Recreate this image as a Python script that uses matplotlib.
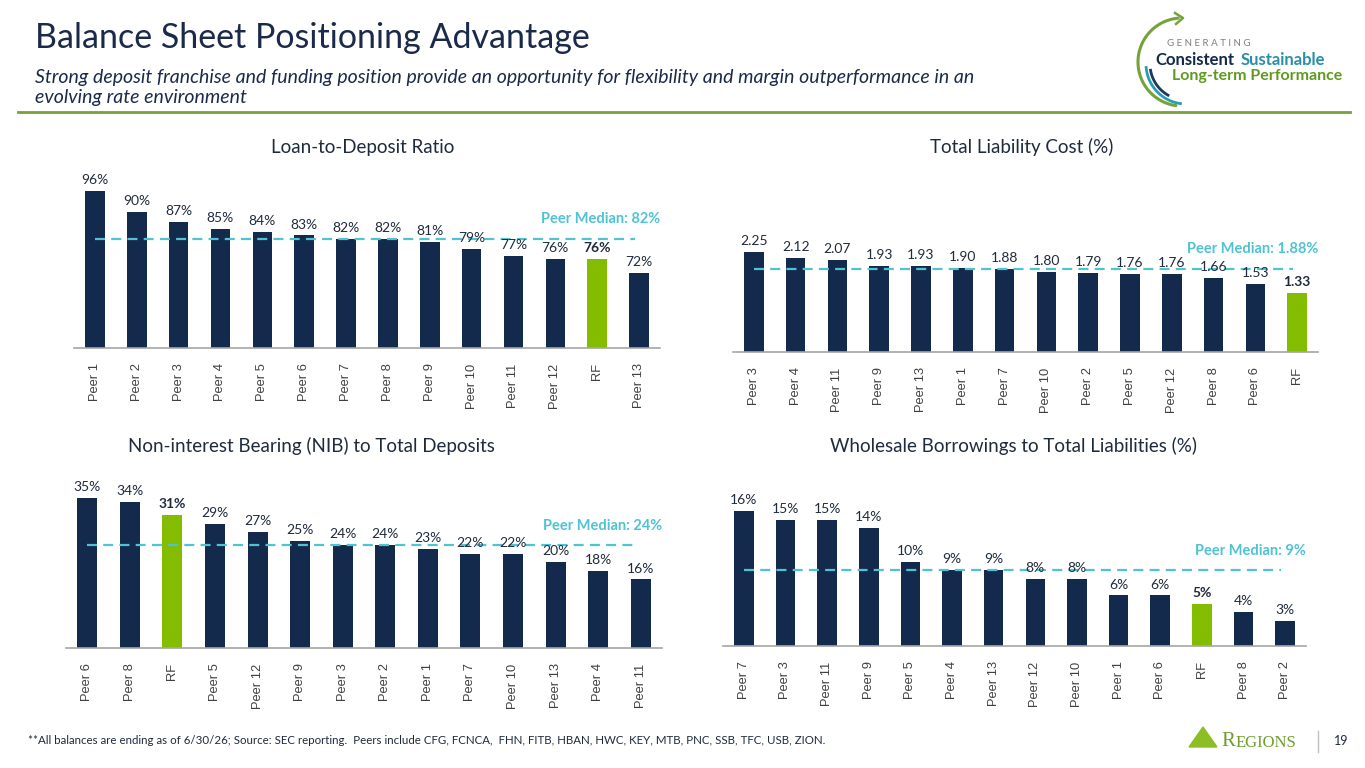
import numpy as np
import matplotlib
matplotlib.use("Agg")
from matplotlib import pyplot as plt
from matplotlib.patches import Polygon

# ---------------------------------------------------------------------------
# DATA
# ---------------------------------------------------------------------------

ltd_names  = ["Peer 1", "Peer 2", "Peer 3", "Peer 4", "Peer 5", "Peer 6", "Peer 7",
              "Peer 8", "Peer 9", "Peer 10", "Peer 11", "Peer 12", "RF", "Peer 13"]
ltd_values = [96, 90, 87, 85, 84, 83, 82, 82, 81, 79, 77, 76, 76, 72]
ltd_median = 82

tlc_names  = ["Peer 3", "Peer 4", "Peer 11", "Peer 9", "Peer 13", "Peer 1", "Peer 7",
              "Peer 10", "Peer 2", "Peer 5", "Peer 12", "Peer 8", "Peer 6", "RF"]
tlc_values = [2.25, 2.12, 2.07, 1.93, 1.93, 1.90, 1.88, 1.80, 1.79, 1.76, 1.76, 1.66, 1.53, 1.33]
tlc_median = 1.88

nib_names  = ["Peer 6", "Peer 8", "RF", "Peer 5", "Peer 12", "Peer 9", "Peer 3",
              "Peer 2", "Peer 1", "Peer 7", "Peer 10", "Peer 13", "Peer 4", "Peer 11"]
nib_values = [35, 34, 31, 29, 27, 25, 24, 24, 23, 22, 22, 20, 18, 16]
nib_median = 24

wb_names  = ["Peer 7", "Peer 3", "Peer 11", "Peer 9", "Peer 5", "Peer 4", "Peer 13",
             "Peer 12", "Peer 10", "Peer 1", "Peer 6", "RF", "Peer 8", "Peer 2"]
wb_values = [16, 15, 15, 14, 10, 9, 9, 8, 8, 6, 6, 5, 4, 3]
wb_median = 9

# ---------------------------------------------------------------------------
# STYLE
# ---------------------------------------------------------------------------

NAVY  = "#142a4c"
GREEN = "#84bd00"
TEAL  = "#4fc3d3"
TEXT  = "#1f2b3d"
OLIVE = "#76a23a"

plt.rcParams["font.family"] = ["Lato", "DejaVu Sans"]

W, H = 1365, 768
fig = plt.figure(figsize=(W / 100, H / 100), dpi=100)

# decoration layer in pixel coordinates
deco = fig.add_axes([0, 0, 1, 1], zorder=0)
deco.set_xlim(0, W)
deco.set_ylim(H, 0)
deco.axis("off")


def px_axes(left, right, top, bottom):
    return fig.add_axes([left / W, (H - bottom) / H, (right - left) / W, (bottom - top) / H], zorder=2)


def bar_panel(box, names, values, median, ylim, fmt, med_label):
    ax = px_axes(*box)
    ax.patch.set_alpha(0)
    x = np.arange(len(names))
    colors = [GREEN if n == "RF" else NAVY for n in names]
    ax.bar(x, values, width=0.47, color=colors, zorder=2)
    ax.set_xlim(-0.5, len(names) - 0.5)
    ax.set_ylim(*ylim)

    for xi, v, n in zip(x, values, names):
        ax.annotate(fmt.format(v), xy=(xi, v), xytext=(0, 3.5), textcoords="offset points",
                    ha="center", va="bottom", fontsize=10, color=TEXT,
                    fontweight="bold" if n == "RF" else "normal", zorder=4)

    ax.plot([0, len(names) - 1.1], [median, median], color=TEAL, lw=1.6,
            linestyle=(0, (4.5, 2.8)), zorder=3)
    ax.annotate(med_label, xy=(len(names) - 0.5, median), xytext=(0, 14),
                textcoords="offset points", ha="right", va="center",
                fontsize=10.5, color=TEAL, fontweight="bold")

    for s in ["top", "right", "left"]:
        ax.spines[s].set_visible(False)
    ax.spines["bottom"].set_color("#a6a6a6")
    ax.spines["bottom"].set_linewidth(1.2)
    ax.set_yticks([])
    ax.set_xticks(x)
    ax.set_xticklabels(names, rotation=90, fontsize=9.3, color="#404040",
                       family=["Liberation Sans", "DejaVu Sans"])
    ax.tick_params(axis="x", length=0, pad=11)
    return ax


bar_panel((74, 660, 170, 348), ltd_names, ltd_values, ltd_median,
          (50, 102.2), "{:.0f}%", "Peer Median: 82%")
bar_panel((733, 1318, 170, 352), tlc_names, tlc_values, tlc_median,
          (0, 4.1), "{:.2f}", "Peer Median: 1.88%")
bar_panel((66, 662, 470, 648), nib_names, nib_values, nib_median,
          (0, 41.5), "{:.0f}%", "Peer Median: 24%")
bar_panel((723, 1306, 470, 646), wb_names, wb_values, wb_median,
          (0, 20.9), "{:.0f}%", "Peer Median: 9%")

# -- Panel titles ------------------------------------------------------------
for px, py, label in [(363, 147, "Loan-to-Deposit Ratio"),
                      (1022, 147, "Total Liability Cost (%)"),
                      (311, 446, "Non-interest Bearing (NIB) to Total Deposits"),
                      (1014, 446, "Wholesale Borrowings to Total Liabilities (%)")]:
    deco.text(px, py, label, ha="center", va="center", fontsize=13.5, color=TEXT)

# -- Header ------------------------------------------------------------------
deco.text(35, 38, "Balance Sheet Positioning Advantage", ha="left", va="center",
          fontsize=24.5, color="#1b2a4a")
deco.text(35, 77, "Strong deposit franchise and funding position provide an opportunity for "
          "flexibility and margin outperformance in an", ha="left", va="center",
          fontsize=14, style="italic", color="#1b2a4a")
deco.text(35, 97, "evolving rate environment", ha="left", va="center",
          fontsize=14, style="italic", color="#1b2a4a")
deco.plot([18, 1350], [112, 112], color=OLIVE, lw=2)

# logo: arc with arrow and tagline
cx, cy, r = 1182, 62, 44
th = np.radians(np.linspace(95, 262, 80))
deco.plot(cx + r * np.cos(th), cy - r * np.sin(th), color=OLIVE, lw=2.2, solid_capstyle="round")
deco.plot([1175, 1183, 1176], [13, 18, 24], color=OLIVE, lw=1.8)
for rr, col, a0, a1 in [(40, "#2a9db5", 185, 262), (36, "#1b3a5c", 190, 240)]:
    t2 = np.radians(np.linspace(a0, a1, 40))
    deco.plot(cx + 4 + rr * np.cos(t2), cy + 2 - rr * np.sin(t2), color=col, lw=2)
deco.text(1167, 44, "G E N E R A T I N G", ha="left", va="center", fontsize=7, color="#7f7f7f")
deco.text(1155, 60, "Consistent", ha="left", va="center", fontsize=12, fontweight="bold", color=NAVY)
deco.text(1241, 60, "Sustainable", ha="left", va="center", fontsize=12, fontweight="bold", color="#2a8fa6")
deco.text(1172, 76, "Long-term Performance", ha="left", va="center", fontsize=11.5,
          fontweight="bold", color="#5f9a1e")

# -- Footer ------------------------------------------------------------------
deco.text(28, 741, "**All balances are ending as of 6/30/26; Source: SEC reporting.  Peers include "
          "CFG, FCNCA,  FHN, FITB, HBAN, HWC, KEY, MTB, PNC, SSB, TFC, USB, ZION.",
          ha="left", va="center", fontsize=8.3, color=TEXT)
deco.add_patch(Polygon([[1189, 747], [1217, 747], [1203, 727]], closed=True, color="#8cbf26"))
deco.text(1221, 741, "R", ha="left", va="center", fontsize=15, color="#6e9e2d",
          family=["Liberation Serif", "DejaVu Serif"])
deco.text(1236, 743, "EGIONS", ha="left", va="center", fontsize=12, color="#6e9e2d",
          family=["Liberation Serif", "DejaVu Serif"])
deco.plot([1318, 1318], [731, 752], color="#bfbfbf", lw=1)
deco.text(1334, 741, "19", ha="left", va="center", fontsize=9, color=TEXT)

fig.savefig("out.png", dpi=100)
